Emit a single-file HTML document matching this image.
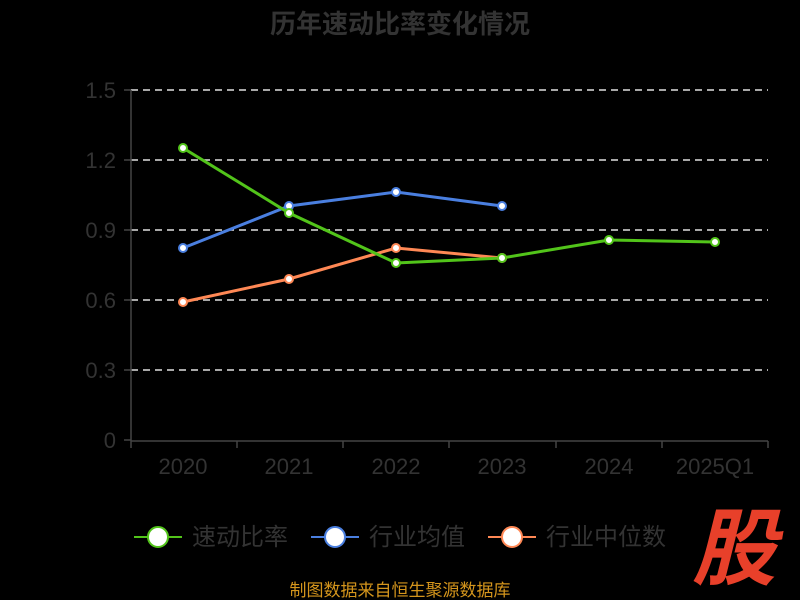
<!DOCTYPE html>
<html><head><meta charset="utf-8"><style>
html,body{margin:0;padding:0;background:#000;width:800px;height:600px;overflow:hidden}
text{font-family:"Liberation Sans","Noto Sans CJK SC",sans-serif}
</style></head><body>
<svg width="800" height="600" xmlns="http://www.w3.org/2000/svg">
<text x="400" y="33" text-anchor="middle" font-size="26" font-weight="bold" fill="#333">历年速动比率变化情况</text>
<g stroke="#e0e0e0" stroke-width="1.5" stroke-dasharray="7,5">
<line x1="131" y1="90" x2="768" y2="90"/><line x1="131" y1="160" x2="768" y2="160"/>
<line x1="131" y1="230" x2="768" y2="230"/><line x1="131" y1="300" x2="768" y2="300"/>
<line x1="131" y1="370" x2="768" y2="370"/></g>
<g stroke="#444" stroke-width="1.5">
<line x1="131" y1="90" x2="131" y2="441"/><line x1="131" y1="441" x2="768" y2="441"/>
<line x1="124" y1="90" x2="131" y2="90"/><line x1="124" y1="160" x2="131" y2="160"/><line x1="124" y1="230" x2="131" y2="230"/><line x1="124" y1="300" x2="131" y2="300"/><line x1="124" y1="370" x2="131" y2="370"/><line x1="124" y1="440" x2="131" y2="440"/>
<line x1="131" y1="441" x2="131" y2="448"/><line x1="237" y1="441" x2="237" y2="448"/><line x1="343" y1="441" x2="343" y2="448"/><line x1="449" y1="441" x2="449" y2="448"/><line x1="556" y1="441" x2="556" y2="448"/><line x1="662" y1="441" x2="662" y2="448"/><line x1="768" y1="441" x2="768" y2="448"/>
</g>
<g font-size="22" fill="#333" text-anchor="end">
<text x="116" y="98">1.5</text><text x="116" y="168">1.2</text><text x="116" y="238">0.9</text><text x="116" y="308">0.6</text><text x="116" y="378">0.3</text><text x="116" y="448">0</text></g>
<g font-size="22" fill="#333" text-anchor="middle">
<text x="183" y="474">2020</text><text x="289" y="474">2021</text><text x="396" y="474">2022</text><text x="502" y="474">2023</text><text x="609" y="474">2024</text><text x="715" y="474">2025Q1</text></g>
<g fill="none" stroke-width="3">
<polyline stroke="#4a7fe0" points="183,248 289,206 396,192 502,206"/>
<polyline stroke="#ff8855" points="183,302 289,279 396,248 502,258"/>
<polyline stroke="#52c41a" points="183,148 289,213 396,263 502,258 609,240 715,242"/>
</g>
<g fill="#fff" stroke-width="2">
<g stroke="#4a7fe0"><circle cx="183" cy="248" r="4"/><circle cx="289" cy="206" r="4"/><circle cx="396" cy="192" r="4"/><circle cx="502" cy="206" r="4"/></g>
<g stroke="#ff8855"><circle cx="183" cy="302" r="4"/><circle cx="289" cy="279" r="4"/><circle cx="396" cy="248" r="4"/><circle cx="502" cy="258" r="4"/></g>
<g stroke="#52c41a"><circle cx="183" cy="148" r="4"/><circle cx="289" cy="213" r="4"/><circle cx="396" cy="263" r="4"/><circle cx="502" cy="258" r="4"/><circle cx="609" cy="240" r="4"/><circle cx="715" cy="242" r="4"/></g>
</g>
<g stroke-width="2">
<line x1="134" y1="537" x2="182" y2="537" stroke="#52c41a"/><circle cx="158" cy="537" r="10" fill="#fff" stroke="#52c41a"/>
<line x1="311" y1="537" x2="359" y2="537" stroke="#4a7fe0"/><circle cx="335" cy="537" r="10" fill="#fff" stroke="#4a7fe0"/>
<line x1="488" y1="537" x2="536" y2="537" stroke="#ff8855"/><circle cx="512" cy="537" r="10" fill="#fff" stroke="#ff8855"/>
</g>
<g font-size="24" fill="#333">
<text x="192" y="545">速动比率</text><text x="369" y="545">行业均值</text><text x="546" y="545">行业中位数</text></g>
<text x="400" y="596" text-anchor="middle" font-size="17" fill="#d4951c">制图数据来自恒生聚源数据库</text>
<text x="734" y="578" text-anchor="middle" font-size="84" font-weight="bold" font-style="italic" fill="#e8402a">股</text>
</svg>
</body></html>
